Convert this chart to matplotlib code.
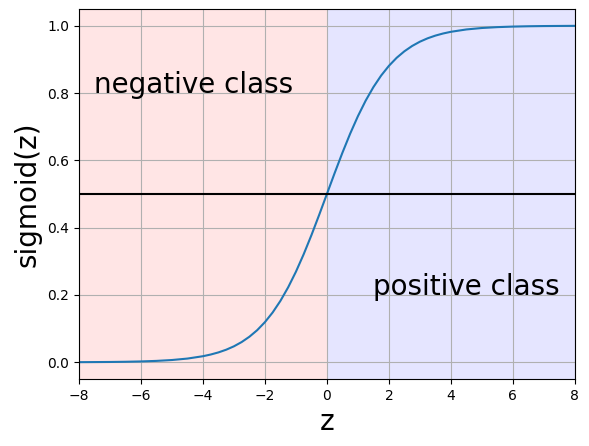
import numpy as np
import matplotlib.pyplot as plt

# values (denser where it is steep)
z = [-8.0, -7.5, -7.0, -6.5, -6.0, -5.5, -5.0, -4.5, -4.0, -3.75, -3.5,
     -3.25, -3.0, -2.75, -2.5, -2.25, -2.0, -1.75, -1.5, -1.25, -1.0, -0.75,
     -0.5, -0.25, 0.0, 0.25, 0.5, 0.75, 1.0, 1.25, 1.5, 1.75, 2.0, 2.25,
     2.5, 2.75, 3.0, 3.25, 3.5, 3.75, 4.0, 4.5, 5.0, 5.5, 6.0, 6.5, 7.0,
     7.5, 8.0]
sig = [0.0003, 0.0006, 0.0009, 0.0015, 0.0025, 0.0041, 0.0067, 0.0110,
       0.0180, 0.0230, 0.0293, 0.0373, 0.0474, 0.0601, 0.0759, 0.0953,
       0.1192, 0.1480, 0.1824, 0.2227, 0.2689, 0.3208, 0.3775, 0.4378,
       0.5000, 0.5622, 0.6225, 0.6792, 0.7311, 0.7773, 0.8176, 0.8520,
       0.8808, 0.9047, 0.9241, 0.9399, 0.9526, 0.9627, 0.9707, 0.9770,
       0.9820, 0.9890, 0.9933, 0.9959, 0.9975, 0.9985, 0.9991, 0.9994,
       0.9997]
threshold = 0.5

fig = plt.figure(figsize=(5.89, 4.46), dpi=100)
ax = fig.add_axes([0.134, 0.150, 0.842, 0.830])

ax.axvspan(-8, 0, color='red', alpha=0.1, lw=0)
ax.axvspan(0, 8, color='blue', alpha=0.1, lw=0)
ax.plot(z, sig)
ax.axhline(threshold, color='black')

ax.text(-7.5, 0.8, 'negative class', fontsize=20)
ax.text(1.5, 0.2, 'positive class', fontsize=20)

ax.set_xlim(-8, 8)
ax.set_ylim(-0.05, 1.05)
ax.set_xlabel('z', fontsize=20)
ax.set_ylabel('sigmoid(z)', fontsize=20)
ax.grid()

fig.savefig('out.png')
